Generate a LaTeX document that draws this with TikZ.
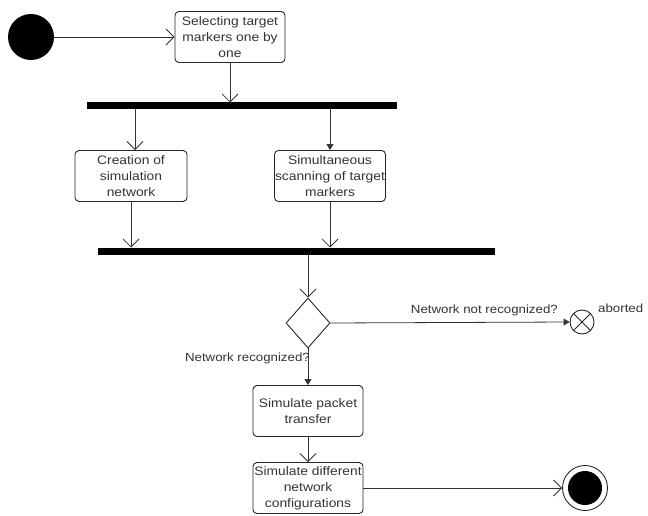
\documentclass[tikz,border=0pt]{standalone}
\usepackage{fontspec}
\setmainfont{Liberation Sans}[FakeStretch=1.12]
\usetikzlibrary{arrows.meta,shapes.geometric}
\newcommand\ctr[1]{\makebox[0pt]{#1}}
\begin{document}
\begin{tikzpicture}[x=1bp,y=-1bp,
  every node/.style={font=\fontsize{12.4}{16}\selectfont, text=black!80},
  actbox/.style={draw=black!85, line width=0.9pt, rounded corners=4bp, minimum width=110bp, minimum height=51bp, align=center, inner sep=0pt},
  bar/.style={fill=black, draw=none, inner sep=0pt},
  openarr/.style={draw=black!80, line width=0.8pt, -{Straight Barb[length=8bp,width=16bp,line width=0.8pt]}},
  fillarr/.style={draw=black!80, line width=0.8pt, -{Triangle[length=6bp,width=7bp]}},
  lbl/.style={font=\fontsize{11.9}{14}\selectfont, inner sep=1pt}
]
\useasboundingbox (0,0) rectangle (648,516);
% start
\node[circle, fill=black, minimum size=46bp, inner sep=0pt] (start) at (31,37) {};
\node[actbox] (sel) at (230,37) {\ctr{Selecting target}\\\ctr{markers one by}\\\ctr{one}};
\node[bar, minimum width=310bp, minimum height=7bp] (bar1) at (242,106) {};
\node[actbox, minimum width=112bp] (cre) at (131,176) {\ctr{Creation of}\\\ctr{simulation}\\\ctr{network}};
\node[actbox, minimum width=111bp] (scan) at (330,176) {\ctr{Simultaneous}\\\ctr{scanning of target}\\\ctr{markers}};
\node[bar, minimum width=397bp, minimum height=7bp] (bar2) at (296.5,251) {};
\node[diamond, draw=black!85, line width=0.9pt, minimum width=44bp, minimum height=50bp, inner sep=0pt] (dec) at (308,323) {};
\node[circle, draw=black!85, line width=0.9pt, minimum size=24bp, inner sep=0pt] (ab) at (582,322) {};
\draw[black!85, line width=0.9pt] (ab.north west) -- (ab.south east) (ab.north east) -- (ab.south west);
\node[actbox] (pkt) at (308,411) {\ctr{Simulate packet}\\\ctr{transfer}};
\node[actbox] (diff) at (308,488) {\ctr{Simulate different}\\\ctr{network}\\\ctr{configurations}};
\node[circle, draw=black!85, line width=0.9pt, minimum size=45bp, inner sep=0pt] (fin) at (585,488) {};
\node[circle, fill=black, minimum size=34bp, inner sep=0pt] (finin) at (585,488) {};
% connectors
\draw[openarr] (start) -- (sel);
\coordinate (b1a) at (230,102.5);
\draw[openarr] (sel.south) -- (b1a);
\coordinate (b1l) at (135,109.5);
\coordinate (b1r) at (330,109.5);
\draw[openarr] (b1l) -- (cre.north -| b1l);
\draw[fillarr] (b1r) -- (scan.north);
\coordinate (b2l) at (131,247.5);
\coordinate (b2r) at (330,247.5);
\draw[openarr] (cre.south) -- (b2l);
\draw[openarr] (scan.south) -- (b2r);
\coordinate (b2o) at (308,254.5);
\draw[openarr] (b2o) -- (dec.north);
\draw[fillarr] (dec.east) -- (ab.west);
\node[lbl, anchor=south east] (nnr) at (559,317) {Network not recognized?};
\node[lbl, anchor=south west] (abl) at (597,314) {aborted};
\draw[fillarr] (dec.south) -- (pkt.north);
\node[lbl, anchor=east] (nrl) at (311,358) {Network recognized?};
\draw[openarr] (pkt.south) -- (diff.north);
\draw[openarr] (diff.east) -- (fin.west);
\end{tikzpicture}
\end{document}
